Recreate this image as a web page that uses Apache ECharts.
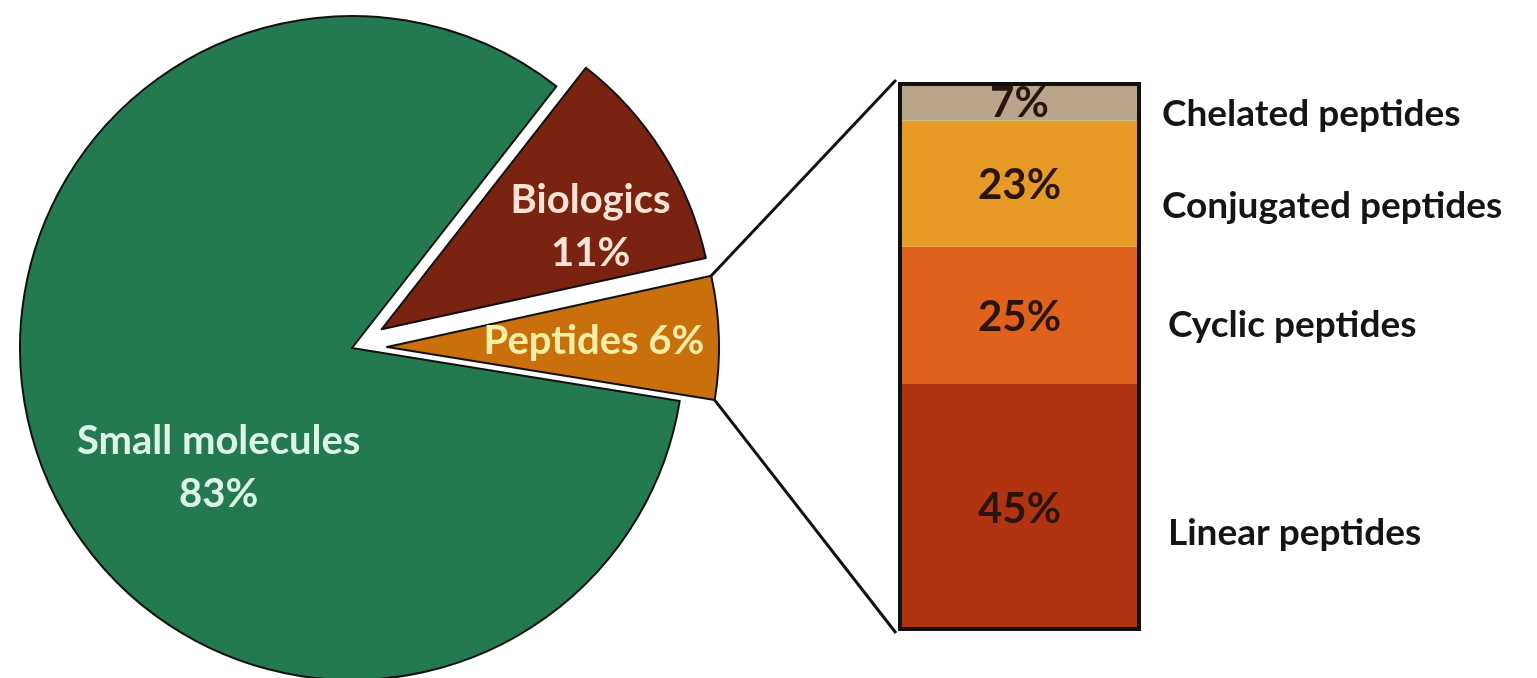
<!DOCTYPE html>
<html>
<head>
<meta charset="utf-8">
<script src="https://cdn.jsdelivr.net/npm/echarts@6/dist/echarts.min.js"></script>
<style>
  html, body { margin: 0; padding: 0; background: #fff; }
  #main { width: 1537px; height: 678px; }
</style>
</head>
<body>
<div id="main"></div>
<script>
// pie: share of approved drugs
var pieNames = ['Biologics', 'Peptides', 'Small molecules'];
var pieValues = [11, 6, 83];
var pieColors = ['#7a2311', '#c9700d', '#237a50'];
var pieLabelColors = ['#fbe4d6', '#f7efa6', '#def4e6'];
var pieExploded = [true, true, false];

// stacked bar: kinds of peptides (bottom to top)
var peptideNames = ['Linear peptides', 'Cyclic peptides', 'Conjugated peptides', 'Chelated peptides'];
var peptideValues = [45, 25, 23, 7];
var peptideColors = ['#b1330f', '#df611c', '#e89a26', '#b9a58a'];
var nameOffsets = [[6, 26], [6, 10], [0, 22], [0, 13]];

var font = 'Lato, "Open Sans", sans-serif';
var selOffset = 35;

var chart = echarts.init(document.getElementById('main'));

var series = [{
    name: 'drugs',
    type: 'pie',
    center: [352, 348],
    radius: 332,
    startAngle: 52,
    selectedMode: 'multiple',
    selectedOffset: selOffset,
    silent: true,
    itemStyle: { borderColor: '#111', borderWidth: 2 },
    label: {
        show: true,
        position: 'inside',
        fontFamily: font,
        fontWeight: 'bold',
        fontSize: 40,
        lineHeight: 53,
        formatter: function (p) {
            if (p.name === 'Peptides') return p.name + ' ' + p.value + '%';
            return p.name + '\n' + p.value + '%';
        }
    },
    labelLine: { show: false },
    labelLayout: function (p) {
        var d = [[66, -13], [38, -1], [12, 29]][p.dataIndex];
        return { dx: d[0], dy: d[1] };
    },
    data: pieNames.map(function (n, i) {
        return {
            name: n,
            value: pieValues[i],
            selected: pieExploded[i],
            itemStyle: { color: pieColors[i] },
            label: { color: pieLabelColors[i] }
        };
    })
}];

peptideNames.forEach(function (n, i) {
    series.push({
        name: n,
        type: 'bar',
        stack: 'share',
        barWidth: '100%',
        barGap: '-100%',
        silent: true,
        itemStyle: { color: peptideColors[i] },
        label: {
            show: true,
            position: 'inside',
            offset: [0, 2],
            formatter: '{c}%',
            color: '#2a150c',
            fontFamily: font,
            fontWeight: 'bold',
            fontSize: 42
        },
        data: [peptideValues[i]]
    });
});

peptideNames.forEach(function (n, i) {
    series.push({
        name: n,
        type: 'bar',
        stack: 'names',
        barWidth: '100%',
        barGap: '-100%',
        silent: true,
        itemStyle: { color: 'rgba(0,0,0,0)' },
        label: {
            show: true,
            position: 'right',
            distance: 21,
            offset: nameOffsets[i],
            formatter: '{a}',
            color: '#151515',
            fontFamily: font,
            fontWeight: 'bold',
            fontSize: 37
        },
        data: [peptideValues[i]]
    });
});

// outline round the whole bar
series.push({
    name: 'outline',
    type: 'bar',
    barWidth: '100%',
    barGap: '-100%',
    silent: true,
    z: 5,
    itemStyle: { color: 'rgba(0,0,0,0)', borderColor: '#111', borderWidth: 4 },
    data: [100]
});

var option = {
    animation: false,
    grid: { left: 898, width: 243, top: 82, height: 549 },
    xAxis: { type: 'category', data: ['Peptides'], show: false },
    yAxis: { type: 'value', min: 0, max: 100, show: false },
    series: series
};
chart.setOption(option);

// lines from the peptide slice to the bar corners
function drawConnectors() {
    var pie = chart.getModel().getSeriesByIndex(0);
    var lay = pie.getData().getItemLayout(pieNames.indexOf('Peptides'));
    var mid = (lay.startAngle + lay.endAngle) / 2;
    var ox = lay.cx + Math.cos(mid) * selOffset;
    var oy = lay.cy + Math.sin(mid) * selOffset;
    var a = [ox + lay.r * Math.cos(lay.startAngle), oy + lay.r * Math.sin(lay.startAngle)];
    var b = [ox + lay.r * Math.cos(lay.endAngle), oy + lay.r * Math.sin(lay.endAngle)];
    var up = a[1] < b[1] ? a : b;
    var down = a[1] < b[1] ? b : a;
    var rect = chart.getModel().getComponent('grid').coordinateSystem.getRect();
    var left = rect.x - 2;
    var top = chart.convertToPixel({ gridIndex: 0 }, [0, 100])[1] - 2;
    var bottom = chart.convertToPixel({ gridIndex: 0 }, [0, 0])[1] + 2;
    chart.setOption({
        graphic: [
            { type: 'line', shape: { x1: up[0], y1: up[1], x2: left, y2: top }, style: { stroke: '#111', lineWidth: 3 } },
            { type: 'line', shape: { x1: down[0], y1: down[1], x2: left, y2: bottom }, style: { stroke: '#111', lineWidth: 3 } }
        ]
    });
}
drawConnectors();
</script>
</body>
</html>
